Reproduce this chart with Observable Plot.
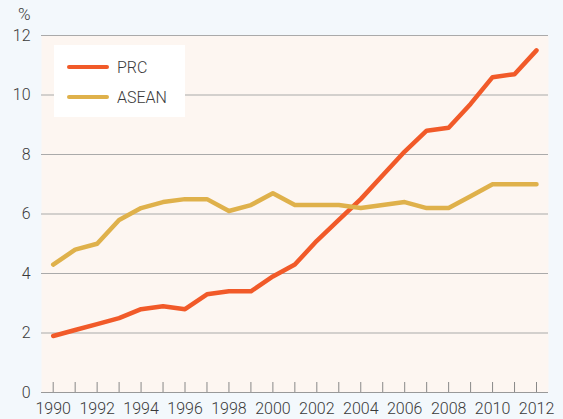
<!DOCTYPE html>
<html>
<head>
<meta charset="utf-8">
<script src="https://cdn.jsdelivr.net/npm/d3@7"></script>
<script src="https://cdn.jsdelivr.net/npm/@observablehq/plot@0.6"></script>
<style>
  html, body { margin: 0; padding: 0; background: #f3f8fc; }
  #wrap { position: relative; width: 563px; height: 419px; font-family: Roboto, "Liberation Sans", sans-serif; font-weight: 300; }
  #wrap svg text { font-weight: 300; }
  #legend { position: absolute; left: 54px; top: 45px; width: 131px; height: 72px; background: #ffffff; }
  .item { position: absolute; left: 13px; height: 20px; display: flex; align-items: center; font-size: 16px; color: #3a3a3a; }
  .swatch { width: 42px; height: 4.5px; border-radius: 3px; margin-right: 8px; }
</style>
</head>
<body>
<div id="wrap"></div>
<script>
const years = d3.range(1990, 2013);
const prc = [1.9, 2.1, 2.3, 2.5, 2.8, 2.9, 2.8, 3.3, 3.4, 3.4, 3.9, 4.3, 5.1, 5.8, 6.5, 7.3, 8.1, 8.8, 8.9, 9.7, 10.6, 10.7, 11.5];
const asean = [4.3, 4.8, 5.0, 5.8, 6.2, 6.4, 6.5, 6.5, 6.1, 6.3, 6.7, 6.3, 6.3, 6.3, 6.2, 6.3, 6.4, 6.2, 6.2, 6.6, 7.0, 7.0, 7.0];
const yTicks = [0, 2, 4, 6, 8, 10, 12];
const xTicks = d3.range(1990, 2013, 2);
const seriesNames = ["PRC", "ASEAN"];
const colors = ["#f15a29", "#dfb14b"];

const rows = [];
years.forEach((yr, i) => {
  rows.push({year: yr, value: prc[i], series: "PRC"});
  rows.push({year: yr, value: asean[i], series: "ASEAN"});
});

const chart = Plot.plot({
  width: 563,
  height: 419,
  marginLeft: 41,
  marginRight: 15,
  marginTop: 35,
  marginBottom: 27,
  style: {fontFamily: "Roboto, 'Liberation Sans', sans-serif", fontSize: "16px", color: "#3a3a3a", background: "transparent"},
  x: {domain: [1990, 2012], insetLeft: 11.7, insetRight: 12},
  y: {domain: [0, 12]},
  color: {domain: seriesNames, range: colors},
  marks: [
    Plot.frame({fill: "#fdf6f1", stroke: null}),
    Plot.ruleY(yTicks.filter(d => d > 0), {stroke: "#aaaaaa", strokeWidth: 1.2}),
    Plot.ruleY([0], {stroke: "#999999", strokeWidth: 1.2}),
    Plot.tickX(years, {x: d => d, stroke: "#888888", strokeWidth: 1, insetTop: 347}),
    Plot.axisY({ticks: yTicks, tickSize: 0, tickPadding: 11, label: null, fontSize: 16}),
    Plot.axisX({ticks: xTicks, tickSize: 0, tickPadding: 10, tickFormat: d => String(d), label: null, fontSize: 16}),
    Plot.text(["%"], {text: d => d, frameAnchor: "top-left", dx: -11, dy: -21, textAnchor: "end", lineAnchor: "middle", fontSize: 17, fill: "#3a3a3a"}),
    Plot.line(rows, {x: "year", y: "value", stroke: "series", strokeWidth: 4.5, strokeLinecap: "round", strokeLinejoin: "round"})
  ]
});

const wrap = document.getElementById("wrap");
wrap.appendChild(chart);

const legend = document.createElement("div");
legend.id = "legend";
seriesNames.forEach((name, i) => {
  const item = document.createElement("div");
  item.className = "item";
  item.style.top = (12 + i * 30) + "px";
  const sw = document.createElement("div");
  sw.className = "swatch";
  sw.style.background = colors[i];
  const label = document.createElement("span");
  label.textContent = name;
  item.appendChild(sw);
  item.appendChild(label);
  legend.appendChild(item);
});
wrap.appendChild(legend);
</script>
</body>
</html>
